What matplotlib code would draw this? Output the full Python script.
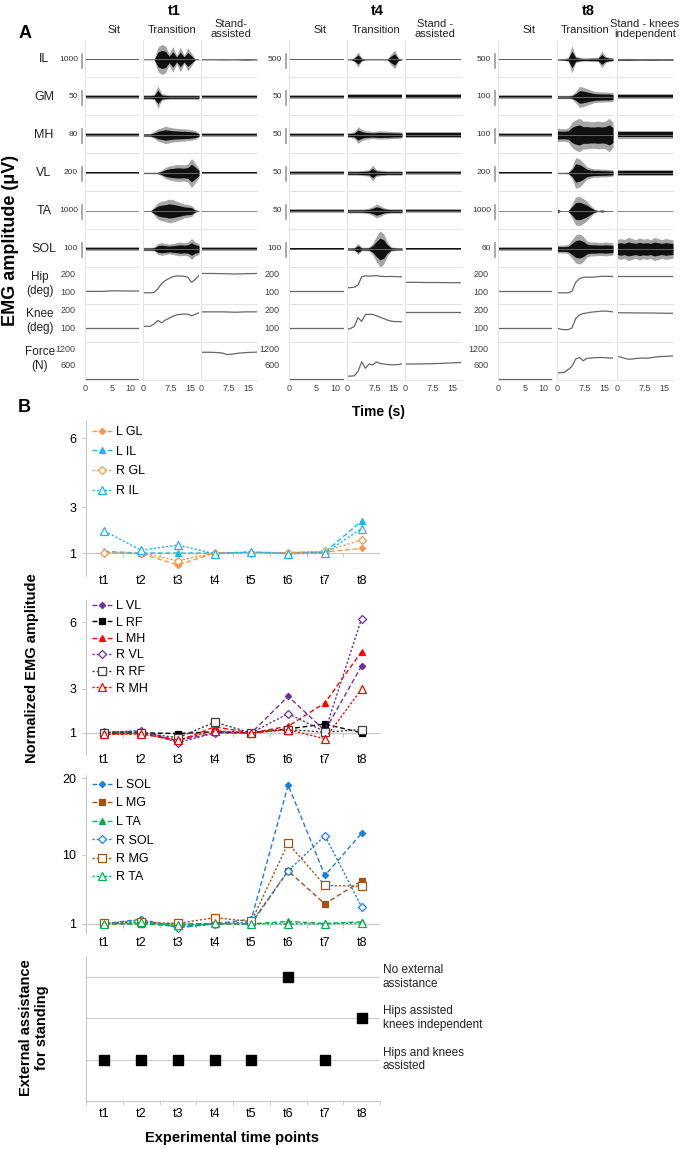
import numpy as np
import matplotlib
matplotlib.use('Agg')
import matplotlib.pyplot as plt
import matplotlib.transforms as mtrans

plt.rcParams['font.family'] = ['Liberation Sans', 'DejaVu Sans']

# ---------------- Panel A data ----------------
# EMG envelopes: half amplitude in uV, evenly spaced over each phase
# each muscle: [sit (0-10 s), transition (0-15 s), stand (0-15 s)]
muscles = ['IL', 'GM', 'MH', 'VL', 'TA', 'SOL']
groups = ['t1', 't4', 't8']
scale_t1 = [1000, 50, 80, 200, 1000, 100]
scale_t4 = [500, 50, 50, 50, 50, 100]
scale_t8 = [500, 100, 100, 200, 1000, 60]

t1_IL = [[30], [20, 20, 20, 20, 900, 1100, 1000, 400, 950, 300, 900, 300, 850, 450, 30, 20],
         [30, 30, 40, 30, 60, 30]]
t1_GM = [[8], [8, 8, 8, 10, 40, 12, 9, 8, 8, 8, 8, 8, 8, 8, 8, 8], [8]]
t1_MH = [[9], [9, 9, 10, 20, 35, 42, 50, 45, 40, 38, 36, 35, 33, 30, 25, 12], [9]]
t1_VL = [[12], [12, 12, 12, 12, 14, 40, 80, 100, 110, 120, 120, 115, 130, 210, 140, 60], [12]]
t1_TA = [[25], [25, 25, 25, 300, 600, 700, 750, 850, 800, 700, 600, 500, 450, 400, 100, 25], [25]]
t1_SOL = [[12], [12, 12, 12, 14, 40, 45, 40, 35, 40, 45, 50, 45, 50, 75, 50, 40], [12]]

t4_IL = [[15], [15, 15, 80, 280, 60, 15, 15, 15, 15, 15, 15, 20, 200, 350, 60, 15], [15]]
t4_GM = [[8], [9], [9]]
t4_MH = [[8], [8, 9, 12, 30, 20, 15, 14, 12, 14, 15, 14, 14, 13, 12, 12, 10], [10]]
t4_VL = [[7], [8, 8, 8, 8, 9, 10, 12, 28, 12, 10, 9, 8, 8, 8, 8, 8], [8]]
t4_TA = [[7], [7, 7, 7, 7, 7, 8, 10, 16, 25, 20, 12, 9, 8, 8, 8, 8], [8]]
t4_SOL = [[10], [10, 10, 12, 40, 12, 12, 14, 40, 90, 130, 110, 50, 15, 12, 10, 10], [10]]

t8_IL = [[12], [20, 30, 40, 70, 500, 120, 80, 60, 60, 70, 70, 80, 300, 120, 80, 60],
         [35, 40, 30, 35, 30, 30]]
t8_GM = [[12], [12, 12, 12, 12, 15, 40, 75, 70, 60, 50, 40, 38, 36, 35, 35, 30], [18]]
t8_MH = [[12], [50, 45, 45, 50, 90, 110, 120, 100, 100, 95, 95, 100, 95, 100, 120, 90], [30]]
t8_VL = [[12], [12, 12, 12, 14, 80, 220, 200, 150, 90, 70, 60, 60, 55, 55, 50, 45], [40]]
t8_TA = [[20], [200, 20, 20, 30, 500, 1000, 1050, 900, 700, 400, 150, 40, 100, 40, 20, 20], [20]]
t8_SOL = [[9], [17, 17, 17, 20, 40, 60, 65, 55, 35, 30, 30, 28, 28, 30, 28, 26],
          [40, 45, 40, 50, 45, 40, 48, 42, 45, 40, 50, 45, 40, 45, 42, 40]]

# joint angles (deg) and force (N), evenly spaced over each phase
t1_hip = [[100, 100, 100, 100, 101, 103, 103, 102, 102, 102, 102],
          [92, 92, 92, 95, 115, 143, 160, 172, 182, 185, 185, 184, 178, 150, 166, 189],
          [199, 199, 198, 196, 198, 199]]
t1_knee = [[100, 100, 100],
           [109, 109, 109, 122, 140, 128, 142, 152, 162, 170, 173, 174, 174, 165, 172, 182],
           [186, 186, 186, 184, 186, 186]]
t1_force = [[0, 0], [],
            [1070, 1070, 1070, 1065, 1060, 1050, 1030, 975, 990, 1010, 1030, 1045, 1055, 1065, 1070, 1075]]

t4_hip = [[100, 100, 100],
          [120, 121, 123, 135, 180, 186, 184, 186, 187, 184, 182, 182, 183, 182, 181, 181],
          [150, 150, 149, 149, 148, 148]]
t4_knee = [[100, 100, 100],
           [92, 98, 108, 155, 135, 172, 173, 172, 166, 158, 150, 142, 137, 134, 134, 133],
           [183, 183, 183, 183, 183, 183]]
t4_force = [[0, 0],
            [110, 115, 130, 300, 690, 430, 600, 560, 680, 620, 600, 580, 565, 570, 580, 600],
            [600, 600, 610, 620, 640, 660]]

t8_hip = [[100, 100, 100],
          [93, 92, 92, 92, 100, 150, 170, 178, 179, 178, 179, 182, 183, 183, 183, 183],
          [187, 187, 187, 187, 187, 187]]
t8_knee = [[100, 100, 100],
           [100, 93, 91, 91, 100, 150, 170, 177, 180, 184, 186, 188, 190, 190, 188, 186],
           [181, 181, 180, 180, 179, 178]]
t8_force = [[0, 0],
            [240, 250, 270, 380, 500, 800, 860, 730, 820, 840, 850, 860, 860, 850, 840, 840],
            [900, 880, 830, 790, 800, 820, 830, 840, 830, 850, 870, 890, 900, 905, 915, 920]]

emg = [[t1_IL, t1_GM, t1_MH, t1_VL, t1_TA, t1_SOL],
       [t4_IL, t4_GM, t4_MH, t4_VL, t4_TA, t4_SOL],
       [t8_IL, t8_GM, t8_MH, t8_VL, t8_TA, t8_SOL]]
scales = [scale_t1, scale_t4, scale_t8]
kin = [[t1_hip, t1_knee, t1_force], [t4_hip, t4_knee, t4_force], [t8_hip, t8_knee, t8_force]]

phases_t1 = ['Sit', 'Transition', 'Stand-\nassisted']
phases_t4 = ['Sit', 'Transition', 'Stand -\nassisted']
phases_t8 = ['Sit', 'Transition', 'Stand - knees\nindependent']
durations = [10, 15, 15]

# ---------------- Panel B data ----------------
timepoints = ['t1', 't2', 't3', 't4', 't5', 't6', 't7', 't8']
L_GL = [1.0, 0.98, 0.48, 1.0, 1.02, 1.02, 1.05, 1.2]
L_IL = [1.07, 1.0, 1.0, 1.0, 1.04, 1.0, 1.04, 2.4]
R_GL = [1.02, 1.0, 0.67, 1.0, 1.02, 1.02, 1.08, 1.57]
R_IL = [1.96, 1.12, 1.35, 0.97, 1.05, 0.97, 1.0, 2.07]

L_VL = [1.03, 1.07, 0.65, 1.0, 1.0, 2.65, 1.1, 4.02]
L_RF = [0.98, 1.0, 0.97, 1.05, 1.0, 1.18, 1.4, 1.0]
L_MH = [0.95, 0.97, 0.63, 1.27, 1.0, 1.3, 2.35, 4.67]
R_VL = [1.02, 1.1, 0.55, 1.0, 1.0, 1.87, 1.05, 6.16]
R_RF = [1.0, 1.0, 0.78, 1.48, 1.0, 1.15, 1.03, 1.15]
R_MH = [0.93, 0.95, 0.68, 1.1, 1.0, 1.15, 0.73, 2.97]

L_SOL = [1.0, 1.6, 0.5, 1.0, 1.6, 19.1, 7.3, 12.8]
L_MG = [1.0, 1.0, 1.0, 1.0, 1.0, 7.9, 3.6, 6.6]
L_TA = [1.0, 1.0, 0.7, 1.0, 1.0, 1.3, 1.05, 1.25]
R_SOL = [1.0, 1.5, 0.5, 1.0, 1.2, 7.9, 12.5, 3.2]
R_MG = [1.05, 1.2, 1.05, 1.8, 1.3, 11.5, 6.0, 5.9]
R_TA = [1.0, 1.2, 0.8, 1.05, 1.0, 1.0, 1.0, 1.1]

assist_level = [1, 1, 1, 1, 1, 3, 1, 2]
assist_labels = ['Hips and knees\nassisted', 'Hips assisted\nknees independent', 'No external\nassistance']

# ---------------- figure ----------------
W, H = 691, 1149
fig = plt.figure(figsize=(W / 100, H / 100), dpi=100)


def box(l, t, r, b):
    return [l / W, 1 - b / H, (r - l) / W, (b - t) / H]


def ftext(x, y, s, **kw):
    fig.text(x / W, 1 - y / H, s, **kw)


phase_cols = [[(85, 139), (143, 199), (201, 257)],
              [(289, 344), (347, 402), (405, 461)],
              [(498, 552), (557, 613), (617, 673)]]
row_edges = [40, 77, 115, 153, 191, 229, 267, 304, 342, 380]
kin_ylim = [(30, 235), (25, 228), (-40, 1480)]
kin_ticks = [[100, 200], [100, 200], [600, 1200]]
kin_names = ['Hip\n(deg)', 'Knee\n(deg)', 'Force\n(N)']
sep = '#e3e3e3'
shift_left = mtrans.ScaledTranslation(-0.04, 0, fig.dpi_scale_trans)

for gi in range(3):
    for pi in range(3):
        l, r = phase_cols[gi][pi]
        dur = durations[pi]
        for ri in range(9):
            ax = fig.add_axes(box(l, row_edges[ri], r, row_edges[ri + 1]))
            ax.patch.set_alpha(0)
            ax.set_xlim(0, dur)
            for sp in ['top', 'right']:
                ax.spines[sp].set_visible(False)
            for sp in ['left', 'bottom']:
                ax.spines[sp].set_color(sep)
                ax.spines[sp].set_linewidth(0.7)
            ax.tick_params(length=0, labelsize=6.5, colors='#404040')
            ax.set_yticks([])
            if ri == 8:
                if pi == 0:
                    ax.set_xticks([0, 5, 10], ['0', '5', '10'])
                else:
                    ax.set_xticks([0, 7.5, 15], ['0', '7.5', '15'])
                ax.tick_params(axis='x', pad=3)
                last = ax.get_xticklabels()[-1]
                last.set_horizontalalignment('right')
                last.set_transform(last.get_transform() + shift_left)
            else:
                ax.set_xticks([])
            tr = mtrans.blended_transform_factory(ax.transAxes, ax.transData)
            if ri < 6:
                s = scales[gi][ri]
                env = np.asarray(emg[gi][ri][pi], float)
                if len(env) == 1:
                    env = np.repeat(env, 2)
                t = np.linspace(0, dur, len(env))
                ax.plot([0, dur], [0, 0], color='0.45', lw=0.6)
                ax.fill_between(t, -env, env, color='k', alpha=0.35, lw=0)
                ax.fill_between(t, -0.6 * env, 0.6 * env, color='k', alpha=0.9, lw=0)
                ax.set_ylim(-1.29 * s, 1.43 * s)
                if pi == 0:
                    w = r - l
                    ax.plot([-3.5 / w, -3.5 / w], [-0.6 * s, 0.4 * s], color='0.6', lw=1.2,
                            transform=tr, clip_on=False)
                    ax.text(-7 / w, 0, str(s), transform=tr, ha='right', va='center',
                            fontsize=6, color='#333333')
                    if gi == 0:
                        ax.text((44 - l) / w, 0, muscles[ri], transform=tr, ha='center',
                                va='center', fontsize=9, color='#222222')
            else:
                k = ri - 6
                vals = kin[gi][k][pi]
                if len(vals):
                    t = np.linspace(0, dur, len(vals))
                    ax.plot(t, vals, color='0.4', lw=0.9)
                ax.set_ylim(*kin_ylim[k])
                if pi == 0:
                    ax.set_yticks(kin_ticks[k])
                    ax.tick_params(axis='y', pad=7, labelsize=6.5)
                    if gi == 0:
                        ax.text((40 - l) / (r - l), 0.55, kin_names[k], transform=ax.transAxes,
                                ha='center', va='center', fontsize=8.5, color='#222222',
                                linespacing=1.25)

group_x = [174, 377, 588]
phase_x = [[114, 172, 231], [320, 376, 435], [529, 585, 645]]
phase_names = [phases_t1, phases_t4, phases_t8]
for gi in range(3):
    ftext(group_x[gi], 11, groups[gi], ha='center', va='center', fontsize=10.5, fontweight='bold')
    for pi in range(3):
        ftext(phase_x[gi][pi], 30 if pi < 2 else 29, phase_names[gi][pi], ha='center',
              va='center', fontsize=8, color='#222222', linespacing=1.1)

ftext(25, 33, 'A', ha='center', va='center', fontsize=13, fontweight='bold')
ftext(24, 407, 'B', ha='center', va='center', fontsize=13, fontweight='bold')
ftext(11, 240, 'EMG amplitude (\u03bcV)', rotation=90, ha='center', va='center',
      fontsize=13, fontweight='bold')
ftext(378, 412, 'Time (s)', ha='center', va='center', fontsize=10, fontweight='bold')

# ---------------- Panel B ----------------
x = np.arange(1, 9)
orange, lblue, purple = '#f79646', '#1cb5ee', '#7030a0'
red, blue, brown, green = '#ff0000', '#1f7fd6', '#a65217', '#00b050'

b1 = [('L GL', L_GL, orange, 'D', True), ('L IL', L_IL, lblue, '^', True),
      ('R GL', R_GL, orange, 'D', False), ('R IL', R_IL, lblue, '^', False)]
b2 = [('L VL', L_VL, purple, 'D', True), ('L RF', L_RF, 'k', 's', True),
      ('L MH', L_MH, red, '^', True), ('R VL', R_VL, purple, 'D', False),
      ('R RF', R_RF, '#404040', 's', False), ('R MH', R_MH, red, '^', False)]
b3 = [('L SOL', L_SOL, blue, 'D', True), ('L MG', L_MG, brown, 's', True),
      ('L TA', L_TA, green, '^', True), ('R SOL', R_SOL, blue, 'D', False),
      ('R MG', R_MG, brown, 's', False), ('R TA', R_TA, green, '^', False)]

msize = {'D': 3.2, '^': 4.2, 's': 4.2}


def line_panel(top, bottom, ylim, yticks, series, leg_top, spacing, tick_pad):
    ax = fig.add_axes(box(86, top, 380, bottom))
    ax.patch.set_alpha(0)
    ax.axhline(1, color='#c8c8c8', lw=0.9, zorder=0)
    ax.vlines(np.arange(0.5, 9.0), 1 - (ylim[1] - ylim[0]) * 0.025, 1, color='#c8c8c8', lw=0.8)
    for lab, vals, col, mk, filled in series:
        ls = (0, (3.5, 2)) if lab.startswith('L') else (0, (1.6, 1.4))
        ax.plot(x, vals, color=col, ls=ls, lw=1.0, marker=mk,
                ms=msize[mk] if filled else msize[mk] + 1.2,
                mfc=col if filled else 'white', mec=col, mew=0.9, label=lab)
    ax.set_xlim(0.5, 8.5)
    ax.set_ylim(*ylim)
    ax.set_yticks(yticks)
    ax.set_xticks(x, timepoints)
    for sp in ['top', 'right', 'bottom']:
        ax.spines[sp].set_visible(False)
    ax.spines['left'].set_color('#c8c8c8')
    ax.tick_params(axis='y', length=3, color='#c8c8c8', labelsize=9, pad=4)
    ax.tick_params(axis='x', length=0, labelsize=9, pad=tick_pad)
    ax.legend(loc='upper left', bbox_to_anchor=(0.02, 1 - leg_top / (bottom - top)),
              frameon=False, fontsize=9, handlelength=1.6, handletextpad=0.3,
              labelspacing=spacing, borderpad=0, borderaxespad=0)
    return ax


line_panel(420, 576, (0, 6.8), [1, 3, 6], b1, 6, 0.62, -1)
line_panel(600, 755, (0, 7.0), [1, 3, 6], b2, 0, 0.36, -1)
line_panel(775, 933, (-0.2, 20.4), [1, 10, 20], b3, 4, 0.52, 3)

ftext(32, 668, 'Normalized EMG amplitude', rotation=90, ha='center', va='center',
      fontsize=10.5, fontweight='bold')

ax4 = fig.add_axes(box(86, 956, 380, 1101))
ax4.patch.set_alpha(0)
for lev in [1, 2, 3]:
    ax4.axhline(lev, color='#d0d0d0', lw=0.9, zorder=0)
ax4.plot(x, assist_level, ls='none', marker='s', ms=6.5, color='k')
ax4.set_xlim(0.5, 8.5)
ax4.set_ylim(0, 3.5)
ax4.set_yticks([])
ax4.set_xticks(x, timepoints)
ax4.set_xticks(np.arange(0.5, 9.0), minor=True)
for sp in ['top', 'right']:
    ax4.spines[sp].set_visible(False)
ax4.spines['left'].set_color('#c8c8c8')
ax4.spines['bottom'].set_color('#c8c8c8')
ax4.tick_params(axis='x', which='major', length=0, labelsize=9, pad=5)
ax4.tick_params(axis='x', which='minor', length=3, color='#c8c8c8')
tr4 = mtrans.blended_transform_factory(ax4.transAxes, ax4.transData)
for lev, lab in zip([1, 2, 3], assist_labels):
    ax4.text(1.01, lev, lab, transform=tr4, ha='left', va='center', fontsize=8.5,
             color='#222222', linespacing=1.2, clip_on=False)

ftext(34, 1028, 'External assistance\nfor standing', rotation=90, ha='center', va='center',
      fontsize=10.5, fontweight='bold', linespacing=1.2)
ftext(232, 1138, 'Experimental time points', ha='center', va='center', fontsize=10.5,
      fontweight='bold')

fig.savefig('out.png', dpi=100)
